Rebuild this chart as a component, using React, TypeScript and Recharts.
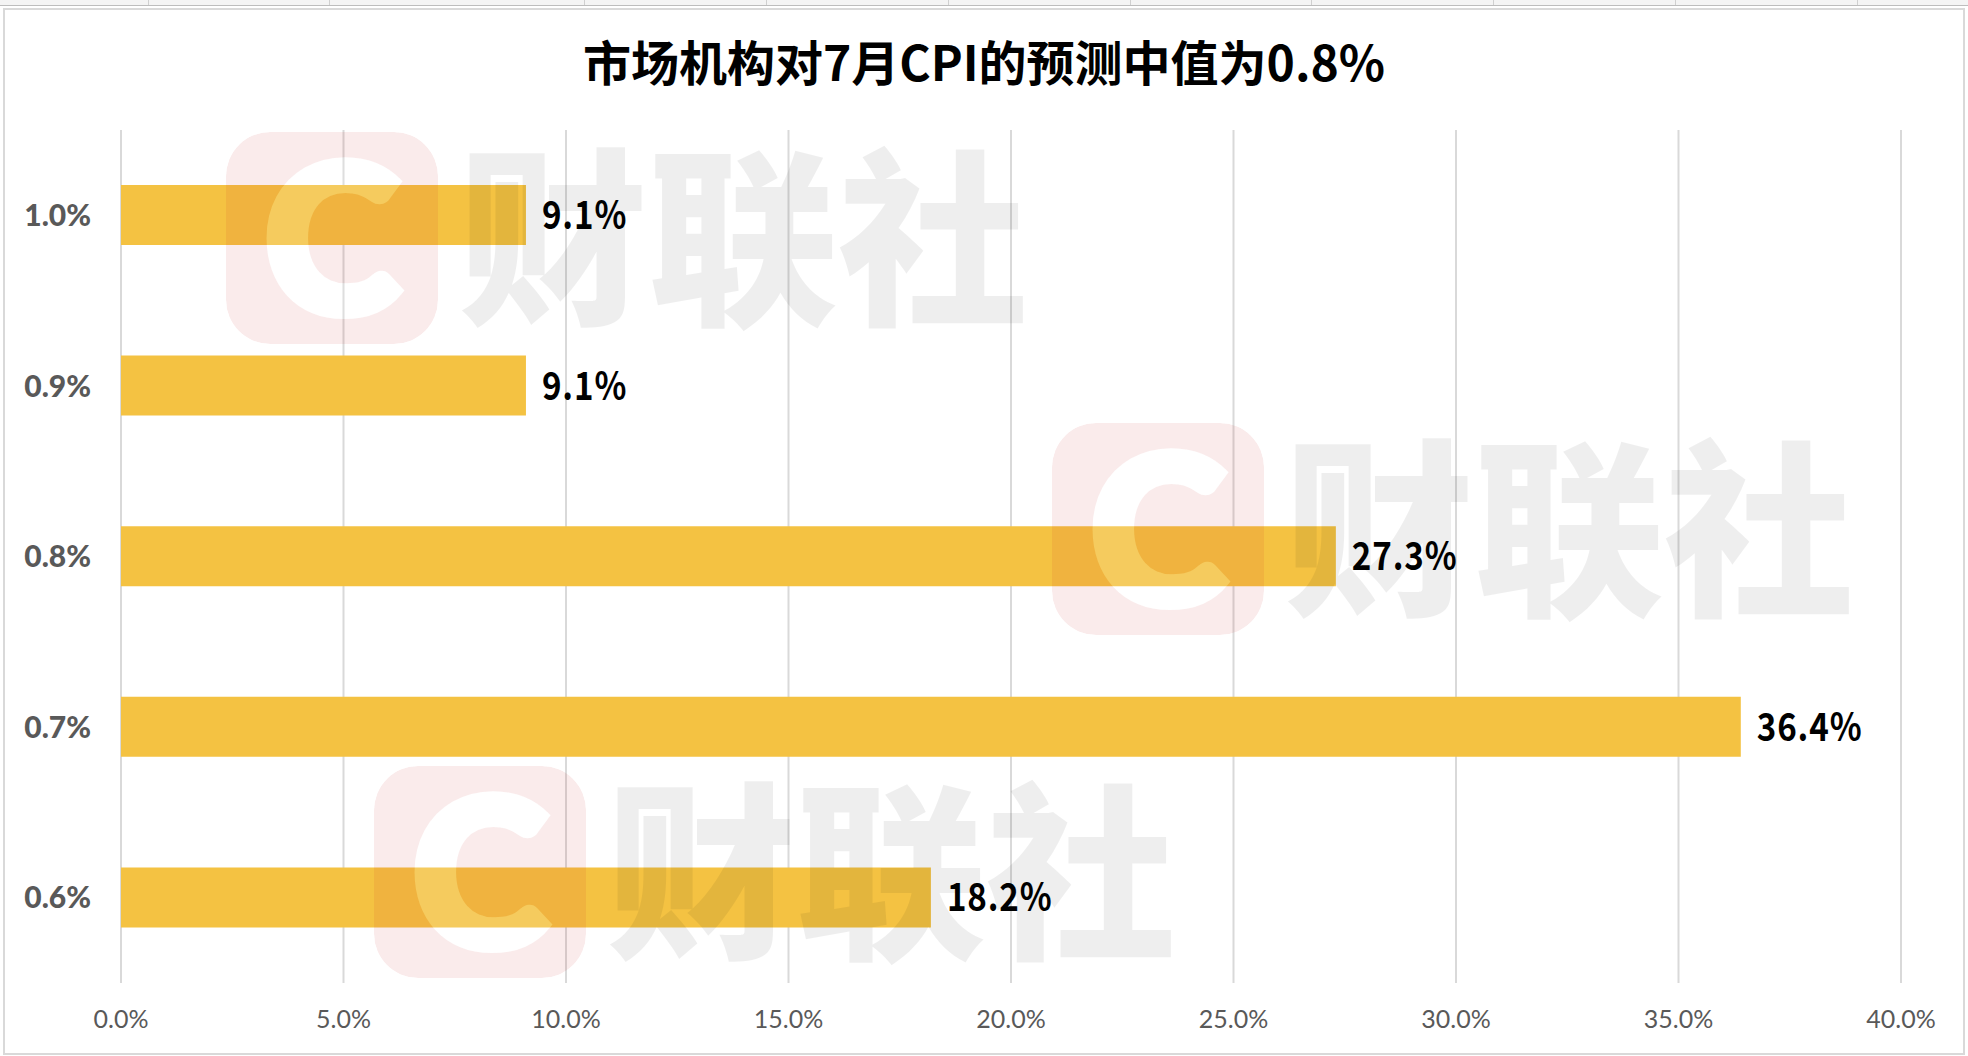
import React from "react";
import {
  BarChart,
  Bar,
  XAxis,
  YAxis,
  CartesianGrid,
  LabelList,
} from "recharts";

// forecast buckets, top to bottom as drawn
const categories = ["1.0%", "0.9%", "0.8%", "0.7%", "0.6%"];
// share of institutions (%) per bucket
const shares = [9.1, 9.1, 27.3, 36.4, 18.2];
const xTicks = [0, 5, 10, 15, 20, 25, 30, 35, 40];

const title = "市场机构对7月CPI的预测中值为0.8%";
const watermarkText = "财联社";

const data = categories.map((name, i) => ({ name, value: shares[i] }));

const pct = (v: number) => `${Number(v).toFixed(1)}%`;

const cjkFont = "'Noto Sans CJK SC', sans-serif";

// excel cell borders peeking above the chart
const cellLines = [148, 329, 584, 766, 948, 1130, 1311, 1493, 1675, 1857];
const watermarks = [
  { x: 226, y: 132 },
  { x: 1052, y: 423 },
  { x: 374, y: 766 },
];

// value label: condensed heiti-like look via horizontal squeeze
const ValueLabel = (props: any) => {
  const { x, y, width, height, value } = props;
  const lx = Number(x) + Number(width) + 16;
  const ly = Number(y) + Number(height) / 2;
  return (
    <text
      transform={`translate(${lx},${ly}) scale(0.85,1)`}
      dy="0.36em"
      fill="#000"
      fontSize={39}
      fontWeight={700}
      fontFamily={cjkFont}
      letterSpacing={1}
    >
      {pct(value)}
    </text>
  );
};

const Watermark = ({ x, y, id }: { x: number; y: number; id: number }) => (
  <g transform={`translate(${x},${y})`}>
    <defs>
      <mask id={`wm-mask-${id}`}>
        <rect width={212} height={212} rx={44} fill="white" />
        <text
          x={106}
          y={180}
          textAnchor="middle"
          fontSize={205}
          fontWeight={900}
          fontFamily="Lato, sans-serif"
          fill="black"
          stroke="black"
          strokeWidth={10}
        >
          C
        </text>
      </mask>
    </defs>
    <rect
      width={212}
      height={212}
      rx={44}
      fill="rgb(200,30,30)"
      fillOpacity={0.09}
      mask={`url(#wm-mask-${id})`}
    />
    <g opacity={0.15}>
      <text
        x={106}
        y={180}
        textAnchor="middle"
        fontSize={205}
        fontWeight={900}
        fontFamily="Lato, sans-serif"
        fill="#fff"
        stroke="#fff"
        strokeWidth={10}
      >
        C
      </text>
    </g>
    <text
      x={232}
      y={178}
      fontSize={190}
      fontWeight={900}
      fontFamily={cjkFont}
      fill="rgba(0,0,0,0.065)"
    >
      {watermarkText}
    </text>
  </g>
);

const App = () => {
  return (
    <div
      style={{
        position: "relative",
        width: 1968,
        height: 1056,
        background: "#fff",
        overflow: "hidden",
      }}
    >
      <style>{`body{margin:0}`}</style>

      {/* spreadsheet strip on top */}
      <div
        style={{
          position: "absolute",
          left: 0,
          top: 0,
          width: 1968,
          height: 5,
          background: "#f4f4f4",
          borderBottom: "1px solid #bdbdbd",
        }}
      >
        {cellLines.map((cx) => (
          <div
            key={cx}
            style={{
              position: "absolute",
              left: cx,
              top: 0,
              width: 1,
              height: 5,
              background: "#d0d0d0",
            }}
          />
        ))}
      </div>

      {/* chart frame */}
      <div
        style={{
          position: "absolute",
          left: 3,
          top: 8,
          width: 1958,
          height: 1043,
          border: "2px solid #d9d9d9",
        }}
      />

      <div
        style={{
          position: "absolute",
          left: 0,
          top: 35,
          width: 1968,
          height: 50,
          lineHeight: "50px",
          textAlign: "center",
          fontFamily: cjkFont,
          fontWeight: 700,
          fontSize: 48,
          color: "#000",
        }}
      >
        {title}
      </div>

      <div style={{ position: "absolute", left: 0, top: 0 }}>
        <BarChart
          width={1968}
          height={1056}
          data={data}
          layout="vertical"
          margin={{ top: 130, right: 67, left: 0, bottom: 13 }}
          barSize={60}
        >
          <CartesianGrid
            horizontal={false}
            stroke="#d9d9d9"
            strokeWidth={2}
          />
          <XAxis
            type="number"
            domain={[0, 40]}
            ticks={xTicks}
            interval={0}
            tickFormatter={pct}
            axisLine={false}
            tickLine={false}
            tickMargin={21}
            height={60}
            tick={{
              fill: "#595959",
              fontSize: 25,
              fontFamily: "Lato, sans-serif",
            }}
          />
          <YAxis
            type="category"
            dataKey="name"
            width={121}
            axisLine={false}
            tickLine={false}
            tickMargin={24}
            tick={{
              fill: "#595959",
              fontSize: 30,
              fontWeight: 900,
              fontFamily: "Lato, sans-serif",
            }}
          />
          <Bar dataKey="value" fill="#F4C242" isAnimationActive={false}>
            <LabelList dataKey="value" content={ValueLabel} />
          </Bar>
        </BarChart>
      </div>

      <svg
        width={1968}
        height={1056}
        style={{ position: "absolute", left: 0, top: 0, pointerEvents: "none" }}
      >
        {watermarks.map((w, i) => (
          <Watermark key={i} id={i} x={w.x} y={w.y} />
        ))}
      </svg>
    </div>
  );
};

export default App;
